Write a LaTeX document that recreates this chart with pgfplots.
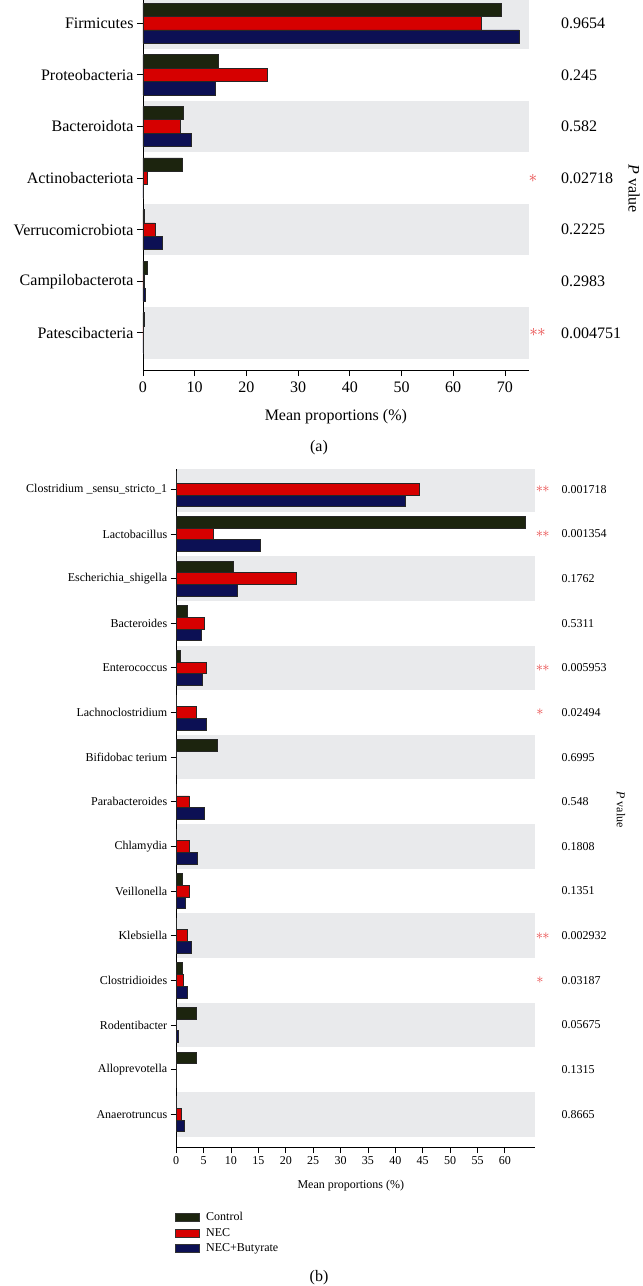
\documentclass[border=0pt]{standalone}
\usepackage{fontspec}
\setmainfont{Liberation Serif}
\usepackage{pgfplots}
\usepackage{pgfplotstable}
\pgfplotsset{compat=1.18}
\definecolor{ctrl}{RGB}{28,36,14}
\definecolor{nec}{RGB}{214,0,0}
\definecolor{but}{RGB}{12,16,84}
\definecolor{band}{RGB}{233,234,236}
\definecolor{starc}{RGB}{232,70,70}

\pgfplotstableread{
idx ctrl nec but
0 69.4 65.5 72.7
1 14.6 24.1 14.0
2 7.85 7.2 9.4
3 7.6 0.8 0.1
4 0.3 2.3 3.7
5 0.9 0.2 0.4
6 0.3 0.05 0.05
}\dataA

\pgfplotstableread{
idx ctrl nec but
0 0.05 44.3 41.8
1 63.7 6.8 15.3
2 10.5 21.9 11.1
3 2.0 5.1 4.6
4 0.75 5.5 4.7
5 0.1 3.7 5.5
6 7.5 0.05 0.1
7 0.1 2.4 5.1
8 0.05 2.4 3.9
9 1.1 2.4 1.7
10 0.05 2.0 2.7
11 1.05 1.3 2.0
12 3.7 0.02 0.45
13 3.7 0.05 0.1
14 0.1 1.0 1.5
}\dataB

\pgfplotsset{
  common/.style={
    xbar, scale only axis, enlargelimits=false, clip=false,
    axis x line*=bottom, axis y line*=left,
    axis line style={line width=0.9pt, black},
    tick align=outside, major tick length=6pt,
    tick style={line width=0.8pt, black},
    /pgf/number format/assume math mode=true,
    minor tick num=0,
  },
  barsty/.style={draw=black!85, line width=0.7pt},
  lg/.style={legend image code/.code={\draw[##1, draw=black!80, line width=0.6pt] (0pt,-4pt) rectangle (24pt,4pt);}},
}

\begin{document}
\begin{tikzpicture}
\useasboundingbox (0pt,0pt) rectangle (643pt,-1286pt);

% ---------------- Panel (a)
\begin{axis}[common,
  at={(143pt,0pt)}, anchor=north west,
  width=385.7pt, height=370pt,
  xmin=0, xmax=74.6, ymin=-6.72, ymax=0.45,
  bar width=0.26,
  xtick={0,10,...,70},
  ytick={-6,-5,-4,-3,-2,-1,0},
  yticklabels={Patescibacteria,Campilobacterota,Verrucomicrobiota,Actinobacteriota,Bacteroidota,Proteobacteria,Firmicutes},
  tick label style={font=\fontsize{16}{19}\selectfont},
  xticklabel style={yshift=-2pt},
  xlabel={Mean proportions (\%)},
  xlabel style={font=\fontsize{16}{19}\selectfont, at={(axis description cs:0.5,-0.126)}, anchor=center},
]
\fill[band] (axis cs:0.15,-0.5) rectangle (axis cs:74.6,0.45);
\fill[band] (axis cs:0.15,-2.5) rectangle (axis cs:74.6,-1.5);
\fill[band] (axis cs:0.15,-4.5) rectangle (axis cs:74.6,-3.5);
\fill[band] (axis cs:0.15,-6.5) rectangle (axis cs:74.6,-5.5);
\addplot[barsty, fill=ctrl, bar shift=0.26] table[x=ctrl, y expr=-\thisrow{idx}] {\dataA};
\addplot[barsty, fill=nec, bar shift=0] table[x=nec, y expr=-\thisrow{idx}] {\dataA};
\addplot[barsty, fill=but, bar shift=-0.26] table[x=but, y expr=-\thisrow{idx}] {\dataA};
\begin{scope}[every node/.style={font=\fontsize{16}{19}\selectfont, anchor=west, inner sep=0pt}]
\node at (axis cs:80.85,0) {0.9654};
\node at (axis cs:80.85,-1) {0.245};
\node at (axis cs:80.85,-2) {0.582};
\node at (axis cs:80.85,-3) {0.02718};
\node at (axis cs:80.85,-4) {0.2225};
\node at (axis cs:80.85,-5) {0.2983};
\node at (axis cs:80.85,-6) {0.004751};
\end{scope}
\begin{scope}[every node/.style={text=starc, font=\fontsize{17}{19}\selectfont, inner sep=0pt}]
\node at (axis cs:75.4,-3) {$\ast$};
\node at (axis cs:76.3,-6) {$\ast\mkern-1mu\ast$};
\end{scope}
\node[rotate=-90, font=\fontsize{16}{19}\selectfont] at (axis description cs:1.273,0.49) {\textit{P} value};
\end{axis}

\node[font=\fontsize{16}{19}\selectfont] at (319pt,-448pt) {(a)};

% ---------------- Panel (b)
\begin{axis}[common,
  at={(176.2pt,-1147.7pt)}, anchor=south west,
  width=358.6pt, height=678.5pt,
  xmin=0, xmax=65.46, ymin=-14.75, ymax=0.45,
  bar width=0.262,
  xtick={0,5,...,60},
  ytick={-14,-13,...,0},
  yticklabels={Anaerotruncus,Alloprevotella,Rodentibacter,Clostridioides,Klebsiella,Veillonella,Chlamydia,Parabacteroides,Bifidobac terium,Lachnoclostridium,Enterococcus,Bacteroides,Escherichia\_shigella,Lactobacillus,Clostridium \_sensu\_stricto\_1},
  tick label style={font=\fontsize{12}{14}\selectfont},
  major tick length=5.5pt,
  xlabel={Mean proportions (\%)},
  xlabel style={font=\fontsize{12}{14}\selectfont, at={(axis description cs:0.487,-0.0565)}, anchor=center},
  legend style={at={(axis description cs:-0.005,-0.092)}, anchor=north west, draw=none, fill=none,
    font=\fontsize{12}{14}\selectfont, inner sep=0pt, row sep=2pt, nodes={inner sep=2pt},
    /tikz/every odd column/.append style={column sep=5pt}},
  legend cell align=left,
]
\fill[band] (axis cs:0.15,-0.5) rectangle (axis cs:65.46,0.45);
\fill[band] (axis cs:0.15,-2.5) rectangle (axis cs:65.46,-1.5);
\fill[band] (axis cs:0.15,-4.5) rectangle (axis cs:65.46,-3.5);
\fill[band] (axis cs:0.15,-6.5) rectangle (axis cs:65.46,-5.5);
\fill[band] (axis cs:0.15,-8.5) rectangle (axis cs:65.46,-7.5);
\fill[band] (axis cs:0.15,-10.5) rectangle (axis cs:65.46,-9.5);
\fill[band] (axis cs:0.15,-12.5) rectangle (axis cs:65.46,-11.5);
\fill[band] (axis cs:0.15,-14.5) rectangle (axis cs:65.46,-13.5);
\addplot[barsty, fill=ctrl, bar shift=0.262, lg] table[x=ctrl, y expr=-\thisrow{idx}] {\dataB};
\addplot[barsty, fill=nec, bar shift=0, lg] table[x=nec, y expr=-\thisrow{idx}] {\dataB};
\addplot[barsty, fill=but, bar shift=-0.262, lg] table[x=but, y expr=-\thisrow{idx}] {\dataB};
\legend{Control,NEC,NEC+Butyrate}
\begin{scope}[every node/.style={font=\fontsize{12}{14}\selectfont, anchor=west, inner sep=0pt}]
\node at (axis cs:70.3,0) {0.001718};
\node at (axis cs:70.3,-1) {0.001354};
\node at (axis cs:70.3,-2) {0.1762};
\node at (axis cs:70.3,-3) {0.5311};
\node at (axis cs:70.3,-4) {0.005953};
\node at (axis cs:70.3,-5) {0.02494};
\node at (axis cs:70.3,-6) {0.6995};
\node at (axis cs:70.3,-7) {0.548};
\node at (axis cs:70.3,-8) {0.1808};
\node at (axis cs:70.3,-9) {0.1351};
\node at (axis cs:70.3,-10) {0.002932};
\node at (axis cs:70.3,-11) {0.03187};
\node at (axis cs:70.3,-12) {0.05675};
\node at (axis cs:70.3,-13) {0.1315};
\node at (axis cs:70.3,-14) {0.8665};
\end{scope}
\begin{scope}[every node/.style={text=starc, font=\fontsize{15}{17}\selectfont, inner sep=0pt}]
\node at (axis cs:66.9,0) {$\ast\mkern-1mu\ast$};
\node at (axis cs:66.9,-1) {$\ast\mkern-1mu\ast$};
\node at (axis cs:66.9,-4) {$\ast\mkern-1mu\ast$};
\node at (axis cs:66.4,-5) {$\ast$};
\node at (axis cs:66.9,-10) {$\ast\mkern-1mu\ast$};
\node at (axis cs:66.4,-11) {$\ast$};
\end{scope}
\node[rotate=-90, font=\fontsize{12}{14}\selectfont] at (axis description cs:1.240,0.498) {\textit{P} value};
\end{axis}

\node[font=\fontsize{16}{19}\selectfont] at (319pt,-1278pt) {(b)};
\end{tikzpicture}
\end{document}
